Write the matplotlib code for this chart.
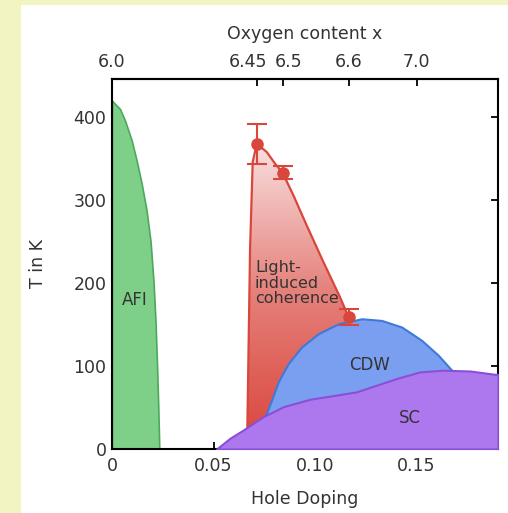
import numpy as np
import matplotlib
matplotlib.use("Agg")
import matplotlib.pyplot as plt
from matplotlib.colors import LinearSegmentedColormap
from matplotlib.patches import Polygon, Rectangle
from matplotlib.transforms import ScaledTranslation

# phase boundaries (doping, T in K)
afi_x = [0.0, 0.0007, 0.0039, 0.0064, 0.0097, 0.0121, 0.0146, 0.0170, 0.0190, 0.0205,
         0.0215, 0.0222, 0.0228, 0.0233]
afi_t = [420, 418, 410, 396, 372, 348, 320, 288, 250, 200, 150, 100, 50, 0]

red_left_x = [0.0665, 0.0680, 0.0693, 0.0713]
red_left_t = [0, 242, 346, 368]
red_right_x = [0.0713, 0.0762, 0.0803, 0.0840, 0.0893, 0.0958, 0.1040, 0.1123, 0.1165]
red_right_t = [368, 358, 344, 333, 306, 270, 226, 183, 159]

pts_x = [0.0713, 0.0840, 0.1165]
pts_t = [368, 333, 159]
pts_err = [24, 8, 10]

cdw_x = [0.0754, 0.0786, 0.0819, 0.0868, 0.0934, 0.1016, 0.1115, 0.1230, 0.1328,
         0.1427, 0.1525, 0.1607, 0.1673, 0.1720]
cdw_t = [39, 59, 81, 103, 123, 139, 151, 157, 155, 147, 131, 113, 95, 80]

sc_x = [0.0515, 0.0581, 0.0647, 0.0745, 0.0844, 0.0975, 0.1106, 0.1205, 0.1303,
        0.1402, 0.1517, 0.1632, 0.1764, 0.1887, 0.1901]
sc_t = [0, 13, 23, 39, 51, 60, 65, 69, 77, 85, 93, 95, 94, 90, 90]

doping_ticks = [0, 0.05, 0.10, 0.15]
doping_labels = ["0", "0.05", "0.10", "0.15"]
t_ticks = [0, 100, 200, 300, 400]
oxy_pos = [0.0, 0.0714, 0.0842, 0.1167, 0.150]
oxy_labels = ["6.0", "6.45", "6.5", "6.6", "7.0"]

plt.rcParams['font.family'] = 'DejaVu Sans'
txt = "#333333"

fig = plt.figure(figsize=(5.08, 5.13), dpi=100, facecolor="#f2f5c1")
fig.patches.append(Rectangle((21 / 508, 0), 1, (513 - 5) / 513, transform=fig.transFigure,
                             facecolor="white", edgecolor="none", zorder=-5))
ax = fig.add_axes([112 / 508, (513 - 449) / 513, 386 / 508, 370 / 513])
ax.set_xlim(0, 0.1901)
ax.set_ylim(0, 446)

# AFI
ax.fill_between(afi_x, afi_t, 0, facecolor="#7ecf88", edgecolor="#4ba95b", lw=1.2, zorder=2)

# light-induced region with vertical gradient
poly_x = red_left_x + red_right_x[1:] + [0.1165]
poly_t = red_left_t + red_right_t[1:] + [0]
poly = Polygon(np.column_stack([poly_x, poly_t]), closed=True, facecolor="none",
               edgecolor="#d9463b", lw=1.6, joinstyle="round", zorder=1.5)
ax.add_patch(poly)
cmap = LinearSegmentedColormap.from_list("red", ["#d9443a", "#e5807a", "#f9e4e4"])
grad = np.linspace(0, 1, 256).reshape(-1, 1)
im = ax.imshow(grad, cmap=cmap, origin="lower", aspect="auto",
               extent=(0.066, 0.118, 0, 375), zorder=1)
im.set_clip_path(poly)

# CDW and SC
ax.fill_between(cdw_x, cdw_t, 0, facecolor="#7b9ff0", edgecolor="#3e7ad8", lw=1.5,
                joinstyle="round", zorder=3)
ax.fill_between(sc_x, sc_t, 0, facecolor="#ad78ee", edgecolor="#8a4fd8", lw=1.5,
                joinstyle="round", zorder=4)

ax.errorbar(pts_x, pts_t, yerr=pts_err, fmt="o", color="#d9463b", ms=8,
            capsize=7, elinewidth=1.5, capthick=1.5, zorder=6)

ax.text(0.0113, 180, "AFI", fontsize=12, color=txt, ha="center", va="center", zorder=7)
ax.text(0.0704, 200, "Light-\ninduced\ncoherence", fontsize=11.5, color=txt,
        ha="left", va="center", linespacing=1.05, zorder=7)
ax.text(0.1269, 101, "CDW", fontsize=12, color=txt, ha="center", va="center", zorder=7)
ax.text(0.1465, 37, "SC", fontsize=12, color=txt, ha="center", va="center", zorder=7)

ax.set_xticks(doping_ticks)
ax.set_xticklabels(doping_labels)
ax.set_yticks(t_ticks)
ax.tick_params(direction="in", length=5, width=1.3, labelsize=12.5, labelcolor=txt,
               right=True, pad=6)
ax.tick_params(axis="y", pad=4)
for s in ax.spines.values():
    s.set_linewidth(1.5)

top = ax.secondary_xaxis("top")
top.set_xticks(oxy_pos)
top.set_xticklabels(oxy_labels)
top.tick_params(direction="in", length=5, width=1.3, labelsize=12.5, labelcolor=txt, pad=6)
top.spines["top"].set_linewidth(1.5)
top.set_xlabel("Oxygen content x", fontsize=12.5, color=txt, labelpad=10)
# nudge the two crowded labels apart, as in the original
labs = top.get_xticklabels()
labs[1].set_transform(labs[1].get_transform() + ScaledTranslation(-9 / 100, 0, fig.dpi_scale_trans))
labs[2].set_transform(labs[2].get_transform() + ScaledTranslation(6 / 100, 0, fig.dpi_scale_trans))

ax.set_xlabel("Hole Doping", fontsize=12.5, color=txt)
ax.xaxis.set_label_coords(0.5, -0.112)
ax.set_ylabel("T in K", fontsize=12.5, color=txt)
ax.yaxis.set_label_coords(-0.168, 0.5)

fig.savefig("out.png", dpi=100, facecolor=fig.get_facecolor())
